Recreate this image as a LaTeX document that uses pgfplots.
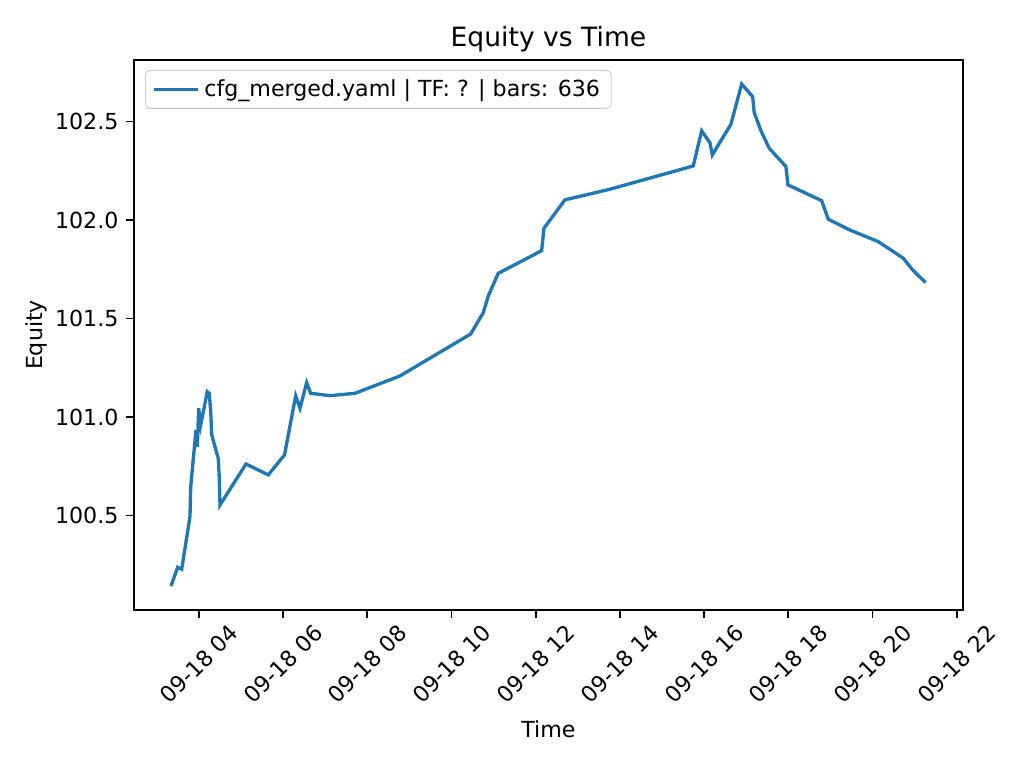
\documentclass[border=0pt]{standalone}
\usepackage{pgfplots}
\pgfplotsset{compat=1.18}
\usepackage{fontspec}
\setmainfont{DejaVu Sans}
\definecolor{mplblue}{HTML}{1F77B4}
\begin{document}
\begin{tikzpicture}
\path[use as bounding box] (0,0) rectangle (460.8bp,345.6bp);
\begin{axis}[
  at={(60.3bp,71.1bp)}, anchor=south west,
  scale only axis, width=373bp, height=247.5bp,
  xmin=2.456, xmax=22.147, ymin=100.020, ymax=102.812,
  axis line style={line width=0.8bp},
  tick align=outside, xtick pos=bottom, ytick pos=left,
  major tick length=3.5bp,
  tick style={line width=0.8bp, black},
  xtick={4,6,8,10,12,14,16,18,20,22},
  xticklabels={09-18 04,09-18 06,09-18 08,09-18 10,09-18 12,09-18 14,09-18 16,09-18 18,09-18 20,09-18 22},
  xticklabel style={yshift=-20.8bp, rotate=45, anchor=center, font=\fontsize{10}{12}\selectfont},
  ytick={100.5,101,101.5,102,102.5},
  yticklabel style={font=\fontsize{10}{12}\selectfont},
  /pgf/number format/assume math mode=true,
  yticklabel={\pgfmathprintnumber[fixed,fixed zerofill,precision=1]{\tick}},
  xlabel={Time}, ylabel={Equity},
  xlabel style={at={(axis description cs:0.5,-0.216)}, anchor=center, font=\fontsize{10}{12}\selectfont},
  ylabel style={at={(axis description cs:-0.118,0.5)}, anchor=center, font=\fontsize{10}{12}\selectfont},
  title={Equity vs Time},
  title style={at={(axis description cs:0.5,1.0)}, anchor=south, yshift=-6bp, font=\fontsize{12}{14}\selectfont},
  legend style={at={(axis description cs:0.0133,0.982)}, anchor=north west,
    draw=black!20, rounded corners=2bp, fill=white, fill opacity=0.8, text opacity=1,
    font=\fontsize{10}{12}\selectfont, inner xsep=3bp, inner ysep=2bp},
  legend cell align=left,
  legend image code/.code={\draw[#1] (0bp,0bp) -- (20bp,0bp);},
]
\addplot[mplblue, line width=1.5bp] coordinates {
(3.335,100.142) (3.494,100.237) (3.589,100.227) (3.786,100.494) (3.803,100.646)
(3.929,100.934) (3.960,100.849) (3.993,101.044) (4.040,100.959) (4.197,101.128)
(4.245,101.120) (4.280,101.020) (4.302,100.909) (4.458,100.790) (4.482,100.689)
(4.499,100.553) (5.116,100.761) (5.646,100.706) (6.031,100.807) (6.297,101.107)
(6.399,101.044) (6.558,101.174) (6.653,101.120) (7.112,101.108) (7.705,101.120)
(8.774,101.208) (10.454,101.421) (10.753,101.529) (10.872,101.614) (11.109,101.729)
(12.140,101.844) (12.195,101.958) (12.694,102.102) (13.763,102.156) (15.741,102.274)
(15.941,102.452) (16.138,102.392) (16.193,102.330) (16.637,102.486) (16.891,102.690)
(17.152,102.626) (17.190,102.545) (17.349,102.453) (17.546,102.364) (17.943,102.271)
(17.990,102.178) (18.791,102.098) (18.948,102.004) (19.463,101.949) (20.136,101.890)
(20.729,101.806) (20.953,101.746) (21.261,101.682)
};
\addlegendentry{cfg\_merged.yaml | TF: ? | bars: 636}
\end{axis}
\end{tikzpicture}
\end{document}
